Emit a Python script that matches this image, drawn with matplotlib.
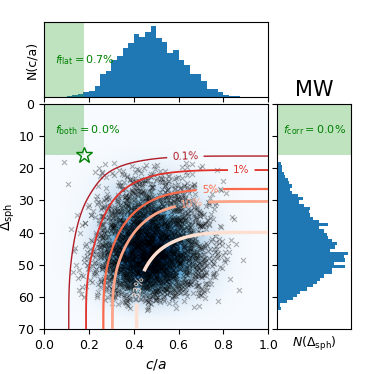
""" Nuage c/a - Delta_sph avec histogrammes marginaux """
import numpy as np
import matplotlib
matplotlib.use("Agg")
import matplotlib.pyplot as plt

# histogramme de c/a (40 classes sur [0, 1])
x_edges = np.linspace(0, 1, 41)
x_counts = [0, 0, 0, 1, 2, 5, 9, 15, 17, 34,
            70, 77, 112, 122, 147, 162, 189, 180, 197, 215,
            177, 167, 132, 142, 112, 97, 70, 70, 47, 24,
            24, 14, 7, 4, 2, 1, 0, 0, 0, 0]

# histogramme de Delta_sph (classes de 1 entre 18 et 64)
y_edges = np.arange(18, 65)
y_counts = [6, 8, 9, 12, 14, 19, 21, 25, 22, 25,
            35, 45, 38, 46, 57, 54, 57, 62, 71, 88,
            71, 80, 85, 88, 94, 103, 100, 91, 121, 114,
            117, 97, 117, 94, 94, 80, 74, 68, 62, 51,
            40, 34, 27, 17, 5, 6]

levels = [0.001, 0.01, 0.05, 0.1, 0.33]
level_names = ['0.1%', '1%', '5%', '10%', '33%']
level_colors = ['#b01c26', '#e0302a', '#f9694a', '#fca487', '#fee0d2']
level_widths = [1.0, 1.3, 1.6, 2.0, 2.5]

mw_ca, mw_dsph = 0.18, 16
f_flat, f_both, f_corr = 0.7, 0.0, 0.0


def expand(edges, counts):
    """ valeurs réparties dans chaque classe """
    out = []
    for i, c in enumerate(counts):
        lo, w = edges[i], edges[i + 1] - edges[i]
        out.extend(lo + (np.arange(c) + 0.5) / c * w if c else [])
    return np.array(out)


def kde1d(vals, grid, bw):
    d = np.exp(-0.5 * ((grid[:, None] - vals[None, :]) / bw) ** 2).sum(axis=1)
    return d / d.sum()


xs = expand(x_edges, x_counts)
ys = expand(y_edges, y_counts)
n = len(xs)
# appariement déterministe des deux marges (suite de Weyl quadratique)
idx = np.arange(n, dtype=float)
ranks = np.argsort(np.argsort((idx * idx * 0.6180339887 + idx * 0.4142135) % 1.0))
ys_pair = ys[ranks]

fac = n ** (-1 / 6)
gx = np.linspace(0, 1, 301)
gy = np.linspace(0, 70, 351)
px = kde1d(xs, gx, xs.std() * fac * 0.7)
py = kde1d(ys, gy, ys.std() * fac)
Z = np.outer(np.cumsum(py) - py / 2, np.cumsum(px) - px / 2)
dens = np.outer(kde1d(ys, gy, ys.std() * fac * 1.5), kde1d(xs, gx, xs.std() * fac * 1.5))

green = 'green'
fig = plt.figure(figsize=(3.74, 3.74), dpi=100)
ax = fig.add_axes([0.118, 0.120, 0.599, 0.602])
ax_t = fig.add_axes([0.118, 0.741, 0.599, 0.200])
ax_r = fig.add_axes([0.741, 0.120, 0.198, 0.602])

# panneau principal
ax.imshow(dens, extent=[0, 1, 70, 0], cmap='Blues', aspect='auto',
          interpolation='bilinear', zorder=0)
ax.fill_between([0, mw_ca], 0, mw_dsph, color='tab:green', alpha=0.3, lw=0, zorder=1)
ax.scatter(xs, ys_pair, marker='x', s=13, c='k', alpha=0.3, linewidths=0.8, zorder=2)
cs = ax.contour(gx, gy, Z, levels=levels, colors=level_colors,
                linewidths=level_widths, zorder=3)
ax.clabel(cs, fmt=dict(zip(levels, level_names)), fontsize=7.5, inline=True,
          manual=[(0.63, 15.8), (0.88, 20.5), (0.74, 27), (0.66, 30.8), (0.43, 57)])
ax.plot(mw_ca, mw_dsph, marker='*', ms=12, mfc='none', mec=green, mew=1, zorder=4)
ax.text(0.05, 8, r'$f_{\rm both} = %.1f\%%$' % f_both, color=green, fontsize=8,
        va='center')
ax.set_xlim(0, 1)
ax.set_ylim(70, 0)
ax.set_xticks(np.arange(0, 1.01, 0.2))
ax.set_yticks(np.arange(0, 71, 10))
ax.tick_params(labelsize=9)
ax.set_xlabel(r'$c/a$', fontsize=10)
ax.set_ylabel(r'$\Delta_{\rm sph}$', fontsize=10, labelpad=1)

# histogramme du haut
ax_t.hist(xs, bins=x_edges, color='#1f77b4')
ax_t.axvspan(0, mw_ca, color='tab:green', alpha=0.3, lw=0)
ax_t.text(0.05, 0.49, r'$f_{\rm flat} = %.1f\%%$' % f_flat, color=green, fontsize=8,
          va='center', transform=ax_t.get_xaxis_transform())
ax_t.set_xlim(0, 1)
ax_t.set_xticks(np.arange(0, 1.01, 0.2))
ax_t.set_xticklabels([])
ax_t.set_yticks([])
ax_t.set_ylabel('N(c/a)', fontsize=9)

# histogramme de droite
ax_r.hist(ys, bins=y_edges, orientation='horizontal', color='#1f77b4')
ax_r.axhspan(0, mw_dsph, color='tab:green', alpha=0.3, lw=0)
ax_r.text(0.5, 8, r'$f_{\rm corr} = %.1f\%%$' % f_corr, color=green, fontsize=8,
          ha='center', va='center', transform=ax_r.get_yaxis_transform())
ax_r.set_ylim(70, 0)
ax_r.set_yticks(np.arange(0, 71, 10))
ax_r.set_yticklabels([])
ax_r.set_xticks([])
ax_r.set_xlabel(r'$N(\Delta_{\rm sph})$', fontsize=9)
ax_r.set_title('MW', fontsize=15)

fig.savefig('out.png', dpi=100)
